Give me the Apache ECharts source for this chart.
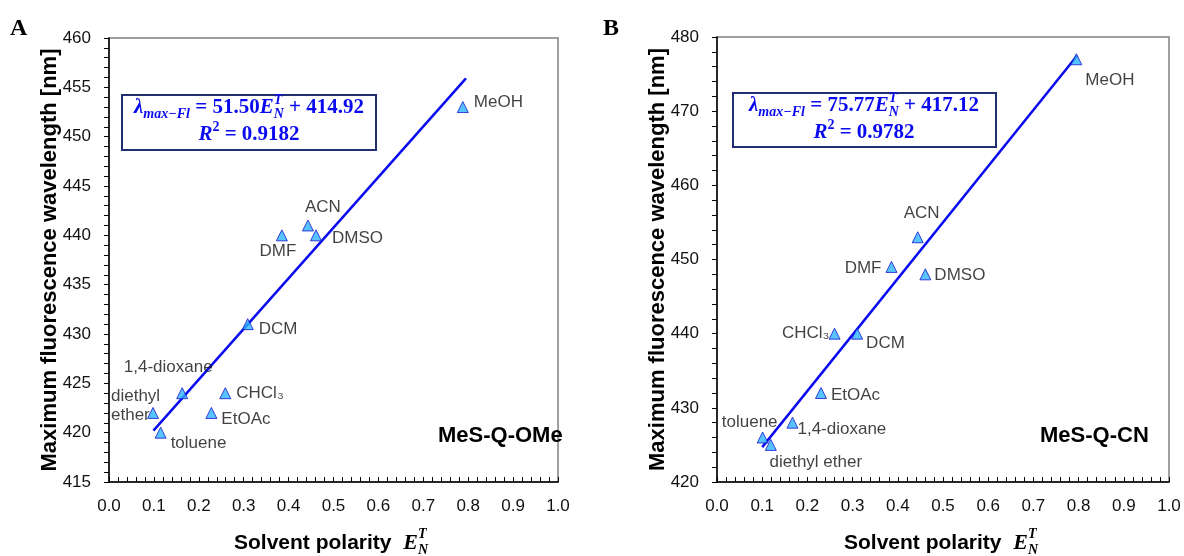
<!DOCTYPE html>
<html>
<head>
<meta charset="utf-8">
<script src="https://cdn.jsdelivr.net/npm/echarts@6/dist/echarts.min.js"></script>
<style>
  html, body { margin: 0; padding: 0; background: #fff; }
  #chart { width: 1184px; height: 556px; }
</style>
</head>
<body>
<div id="chart"></div>
<script>
// solvents, same order for both panels
const solvents = ['toluene', 'diethyl ether', '1,4-dioxane', 'EtOAc', 'CHCl3', 'DCM', 'DMF', 'DMSO', 'ACN', 'MeOH']

// panel A: MeS-Q-OMe
const polarityA = [0.115, 0.098, 0.163, 0.228, 0.259, 0.309, 0.385, 0.461, 0.443, 0.788]
const lambdaA = [420, 422, 424, 422, 424, 431, 440, 440, 441, 453]
const fitA = [[0.099, 420.2], [0.795, 455.9]]

// panel B: MeS-Q-CN
const polarityB = [0.101, 0.119, 0.167, 0.230, 0.260, 0.310, 0.386, 0.461, 0.444, 0.795]
const lambdaB = [426, 425, 428, 432, 440, 440, 449, 448, 453, 477]
const fitB = [[0.100, 424.7], [0.797, 477.5]]

const xTicks = [0, 0.1, 0.2, 0.3, 0.4, 0.5, 0.6, 0.7, 0.8, 0.9, 1.0]
const yTicksA = [415, 420, 425, 430, 435, 440, 445, 450, 455, 460]
const yTicksB = [420, 430, 440, 450, 460, 470, 480]

// label placement: [dx, dy, align, text]
const labelsA = {
  'toluene': [10, 11, 'left'],
  'diethyl ether': [-42, -7, 'left', 'diethyl\nether'],
  '1,4-dioxane': [-14, -26, 'center'],
  'EtOAc': [10, 6, 'left'],
  'CHCl3': [11, 0, 'left', 'CHCl₃'],
  'DCM': [11, 5, 'left'],
  'DMF': [-4, 16, 'center'],
  'DMSO': [16, 3, 'left'],
  'ACN': [15, -18, 'center'],
  'MeOH': [11, -5, 'left']
}
const labelsB = {
  'toluene': [-13, -15, 'center'],
  'diethyl ether': [45, 17, 'center'],
  '1,4-dioxane': [5, 7, 'left'],
  'EtOAc': [10, 2, 'left'],
  'CHCl3': [-5, 0, 'right', 'CHCl₃'],
  'DCM': [9, 10, 'left'],
  'DMF': [-10, 1, 'right'],
  'DMSO': [9, 1, 'left'],
  'ACN': [4, -24, 'center'],
  'MeOH': [9, 21, 'left']
}

const FONT = '"Liberation Sans", Arial, sans-serif'
const SERIF = '"Liberation Serif", "Times New Roman", serif'
const BLUE = '#0a0af0'

function points(xs, ys, labels) {
  return solvents.map((name, i) => {
    const l = labels[name]
    return {
      name: name,
      value: [xs[i], ys[i]],
      label: {
        show: true,
        position: 'inside',
        offset: [l[0], l[1]],
        align: l[2],
        verticalAlign: 'middle',
        formatter: l[3] || name,
        color: '#111',
        fontSize: 17,
        fontFamily: FONT,
        lineHeight: 19
      }
    }
  })
}

function xAxis(gridIndex) {
  return {
    gridIndex: gridIndex,
    type: 'value',
    min: 0,
    max: 1,
    interval: 0.1,
    axisLine: { lineStyle: { color: '#000', width: 1.5 } },
    axisTick: { inside: true, length: 5, lineStyle: { color: '#000' } },
    minorTick: { show: true, splitNumber: 5, length: 5, lineStyle: { color: '#000' } },
    splitLine: { show: false },
    axisLabel: {
      margin: 16,
      fontSize: 17,
      fontFamily: FONT,
      color: '#111',
      formatter: v => xTicks.find(t => Math.abs(t - v) < 1e-6).toFixed(1)
    }
  }
}

function yAxis(gridIndex, ticks, gap) {
  return {
    gridIndex: gridIndex,
    type: 'value',
    min: ticks[0],
    max: ticks[ticks.length - 1],
    interval: ticks[1] - ticks[0],
    name: 'Maximum fluorescence wavelength [nm]',
    nameLocation: 'middle',
    nameGap: gap,
    nameMoveOverlap: false,
    nameTextStyle: { fontSize: 22, fontWeight: 'bold', fontFamily: FONT, color: '#000' },
    axisLine: { lineStyle: { color: '#000', width: 1.5 } },
    axisTick: { length: 5, lineStyle: { color: '#000' } },
    minorTick: { show: true, splitNumber: 5, length: 5, lineStyle: { color: '#000' } },
    splitLine: { show: false },
    axisLabel: { margin: 18, fontSize: 17, fontFamily: FONT, color: '#111' }
  }
}

// lay out a math line from pieces [text, font, dy, advance]
const measureCtx = document.createElement('canvas').getContext('2d')
function mathLine(parts, cx, y, color, z) {
  let total = 0
  const widths = parts.map(p => {
    measureCtx.font = p[1]
    const w = measureCtx.measureText(p[0]).width
    if (p[3] !== false) total += w
    return w
  })
  let x = cx - total / 2
  return parts.map((p, i) => {
    const el = {
      type: 'text',
      z: z || 1,
      x: x,
      y: y + (p[2] || 0),
      style: { text: p[0], font: p[1], fill: color, verticalAlign: 'middle', align: 'left' }
    }
    if (p[3] !== false) x += widths[i]
    return el
  })
}

const big = 'italic bold 21px ' + SERIF
const bigUp = 'bold 21px ' + SERIF
const small = 'italic bold 14px ' + SERIF
const smallUp = 'bold 14px ' + SERIF

function equation(slope, icpt, r2, cx, y1, y2) {
  return [
    ...mathLine([
      ['λ', big, 0], ['max−Fl', small, 6], [' = ' + slope, bigUp, 0], ['E', big, 0],
      ['T', small, -8, false], ['N', small, 6], [' + ' + icpt, bigUp, 0]
    ], cx, y1, BLUE, 20),
    ...mathLine([
      ['R', big, 0], ['2', smallUp, -8], [' = ' + r2, bigUp, 0]
    ], cx, y2, BLUE, 20)
  ]
}

const axisTitle = 'bold 21px ' + FONT
function xTitle(cx) {
  return mathLine([
    ['Solvent polarity  ', axisTitle, 0], ['E', 'italic bold 22px ' + SERIF, 0],
    ['T', 'italic bold 14px ' + SERIF, -9, false], ['N', 'italic bold 14px ' + SERIF, 7]
  ], cx, 543, '#000')
}

const myChart = echarts.init(document.getElementById('chart'))
const option = {
  animation: false,
  grid: [
    { left: 109, top: 38, width: 449, height: 444, show: true, borderColor: '#808080', borderWidth: 1.5 },
    { left: 717, top: 37, width: 452, height: 445, show: true, borderColor: '#808080', borderWidth: 1.5 }
  ],
  xAxis: [xAxis(0), xAxis(1)],
  yAxis: [yAxis(0, yTicksA, 48), yAxis(1, yTicksB, 48)],
  series: [
    {
      type: 'line', xAxisIndex: 0, yAxisIndex: 0, data: fitA, symbol: 'none',
      lineStyle: { color: BLUE, width: 2.5 }, z: 2
    },
    {
      type: 'scatter', xAxisIndex: 0, yAxisIndex: 0, data: points(polarityA, lambdaA, labelsA),
      symbol: 'triangle', symbolSize: 11,
      itemStyle: { color: '#2db4ff', borderColor: '#1515cc', borderWidth: 1 }, z: 3
    },
    {
      type: 'line', xAxisIndex: 1, yAxisIndex: 1, data: fitB, symbol: 'none',
      lineStyle: { color: BLUE, width: 2.5 }, z: 2
    },
    {
      type: 'scatter', xAxisIndex: 1, yAxisIndex: 1, data: points(polarityB, lambdaB, labelsB),
      symbol: 'triangle', symbolSize: 11,
      itemStyle: { color: '#2db4ff', borderColor: '#1515cc', borderWidth: 1 }, z: 3
    }
  ],
  graphic: [
    { type: 'text', left: 10, top: 17, style: { text: 'A', font: 'bold 24px ' + SERIF, fill: '#000' } },
    { type: 'text', left: 603, top: 17, style: { text: 'B', font: 'bold 24px ' + SERIF, fill: '#000' } },
    { type: 'rect', z: 10, shape: { x: 122, y: 95, width: 254, height: 55 }, style: { fill: '#fff', stroke: '#1f2f6f', lineWidth: 2 } },
    { type: 'rect', z: 10, shape: { x: 733, y: 93, width: 263, height: 54 }, style: { fill: '#fff', stroke: '#1f2f6f', lineWidth: 2 } },
    { type: 'group', z: 20, children: equation('51.50', '414.92', '0.9182', 249, 108, 135) },
    { type: 'group', z: 20, children: equation('75.77', '417.12', '0.9782', 864, 106, 133) },
    { type: 'text', left: 438, top: 425, style: { text: 'MeS-Q-OMe', font: 'bold 22px ' + FONT, fill: '#000' } },
    { type: 'text', left: 1040, top: 425, style: { text: 'MeS-Q-CN', font: 'bold 22px ' + FONT, fill: '#000' } },
    { type: 'group', children: xTitle(331) },
    { type: 'group', children: xTitle(941) }
  ]
}
myChart.setOption(option)
</script>
</body>
</html>
